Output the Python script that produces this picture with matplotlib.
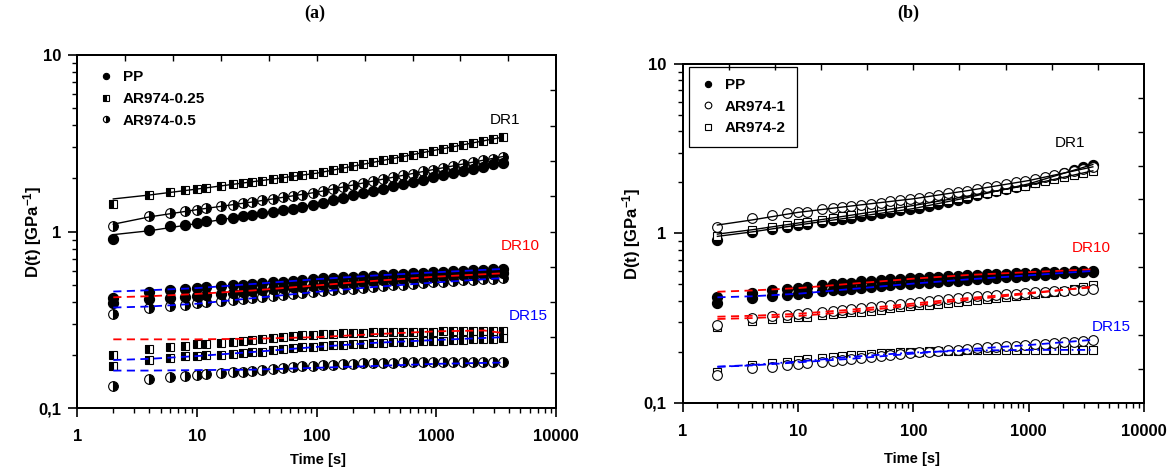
import matplotlib
matplotlib.use('Agg')
import matplotlib.pyplot as plt
import numpy as np
from matplotlib.lines import Line2D
from matplotlib.ticker import FixedLocator, NullFormatter, LogLocator, NullLocator

plt.rcParams['font.family'] = ['Liberation Sans', 'DejaVu Sans']
plt.rcParams['mathtext.fontset'] = 'custom'
plt.rcParams['mathtext.rm'] = 'Liberation Sans:bold'
plt.rcParams['mathtext.it'] = 'Liberation Sans:bold'
plt.rcParams['mathtext.bf'] = 'Liberation Sans:bold'
plt.rcParams['mathtext.default'] = 'rm'

# ---------------- data ----------------
times = [2, 4, 6, 8, 10, 12, 16, 20, 24, 29, 35, 43, 52, 63, 76, 93, 112, 136, 165, 200,
         243, 294, 357, 433, 525, 637, 772, 937, 1136, 1377, 1670, 2026, 2456, 2979, 3600]
fit_t = [2, 4, 10, 30, 100, 300, 1000, 3600]
fit_t_red15 = [2, 4, 10, 30, 100, 300, 1000, 2500, 3600]

x_tick_labels = ['1', '10', '100', '1000', '10000']
y_tick_labels = ['0,1', '1', '10']

# ---- panel (a) ----
pp_dr1_a = [0.91, 1.02, 1.07, 1.09, 1.12, 1.14, 1.17, 1.20, 1.22, 1.245, 1.27, 1.29, 1.32, 1.345, 1.37,
            1.415, 1.455, 1.50, 1.55, 1.60, 1.645, 1.695, 1.75, 1.80, 1.86, 1.91, 1.97, 2.03,
            2.09, 2.15, 2.21, 2.27, 2.33, 2.40, 2.46]
ar025_dr1_a = [1.44, 1.61, 1.67, 1.71, 1.74, 1.77, 1.815, 1.85, 1.88, 1.915, 1.945, 1.98, 2.01, 2.05, 2.08,
               2.12, 2.17, 2.23, 2.29, 2.34, 2.40, 2.47, 2.53, 2.59, 2.66, 2.73, 2.80, 2.87,
               2.94, 3.02, 3.10, 3.18, 3.26, 3.34, 3.43]
ar05_dr1_a = [1.07, 1.22, 1.27, 1.30, 1.33, 1.355, 1.39, 1.42, 1.45, 1.47, 1.50, 1.53, 1.56, 1.59, 1.615,
              1.66, 1.70, 1.74, 1.79, 1.83, 1.88, 1.93, 1.98, 2.03, 2.08, 2.13, 2.19, 2.24,
              2.30, 2.35, 2.41, 2.47, 2.53, 2.59, 2.66]
fit_pp_dr1_a = [0.96, 1.01, 1.11, 1.25, 1.43, 1.73, 2.05, 2.46]
fit_ar025_dr1_a = [1.53, 1.61, 1.74, 1.92, 2.14, 2.47, 2.90, 3.43]
fit_ar05_dr1_a = [1.10, 1.21, 1.33, 1.475, 1.67, 1.935, 2.26, 2.66]

pp_dr10_a = [0.42, 0.457, 0.465, 0.47, 0.477, 0.482, 0.49, 0.496, 0.50, 0.505, 0.51, 0.515, 0.52, 0.527,
             0.533, 0.538, 0.543, 0.547, 0.551, 0.555, 0.559, 0.563, 0.567, 0.571, 0.575, 0.579,
             0.583, 0.587, 0.591, 0.595, 0.599, 0.603, 0.607, 0.611, 0.614]
ar025_dr10_a = [0.393, 0.413, 0.42, 0.426, 0.432, 0.437, 0.444, 0.45, 0.455, 0.46, 0.466, 0.472, 0.478,
                0.483, 0.488, 0.493, 0.498, 0.503, 0.508, 0.513, 0.518, 0.523, 0.528, 0.533, 0.538,
                0.543, 0.548, 0.553, 0.558, 0.562, 0.566, 0.570, 0.574, 0.577, 0.58]
ar05_dr10_a = [0.34, 0.367, 0.377, 0.385, 0.393, 0.398, 0.405, 0.41, 0.415, 0.42, 0.426, 0.432, 0.438,
               0.444, 0.45, 0.455, 0.46, 0.465, 0.47, 0.475, 0.48, 0.485, 0.49, 0.495, 0.50, 0.505,
               0.51, 0.515, 0.52, 0.525, 0.529, 0.533, 0.537, 0.541, 0.544]
fit_blue_top_dr10_a = [0.457, 0.465, 0.478, 0.505, 0.537, 0.563, 0.588, 0.614]
fit_red_dr10_a = [0.424, 0.43, 0.443, 0.464, 0.495, 0.525, 0.555, 0.58]
fit_blue_bot_dr10_a = [0.371, 0.376, 0.39, 0.42, 0.455, 0.485, 0.515, 0.545]

ar025_dr15_a = [0.200, 0.216, 0.221, 0.226, 0.23, 0.232, 0.235, 0.238, 0.241, 0.244, 0.247, 0.25, 0.252,
                0.255, 0.258, 0.26, 0.262, 0.264, 0.265, 0.266, 0.267, 0.268, 0.269, 0.27, 0.27, 0.271,
                0.271, 0.271, 0.272, 0.272, 0.272, 0.272, 0.272, 0.273, 0.273]
sq2_dr15_a = [0.174, 0.187, 0.193, 0.196, 0.197, 0.199, 0.201, 0.203, 0.205, 0.207, 0.209, 0.212, 0.215,
              0.218, 0.221, 0.223, 0.225, 0.227, 0.229, 0.231, 0.232, 0.234, 0.235, 0.236, 0.237, 0.238,
              0.239, 0.24, 0.241, 0.242, 0.243, 0.245, 0.246, 0.247, 0.248]
ar05_dr15_a = [0.134, 0.146, 0.149, 0.152, 0.154, 0.155, 0.157, 0.159, 0.16, 0.162, 0.164, 0.166, 0.168,
               0.17, 0.173, 0.174, 0.175, 0.176, 0.177, 0.178, 0.179, 0.18, 0.181, 0.181, 0.182, 0.182,
               0.183, 0.183, 0.183, 0.183, 0.183, 0.183, 0.183, 0.183, 0.183]
fit_red_dr15_a = [0.245, 0.245, 0.245, 0.247, 0.252, 0.262, 0.272, 0.275, 0.266]
fit_blue_mid_dr15_a = [0.187, 0.19, 0.197, 0.208, 0.222, 0.234, 0.243, 0.252]
fit_blue_bot_dr15_a = [0.163, 0.163, 0.164, 0.165, 0.169, 0.173, 0.178, 0.181]

# ---- panel (b) ----
pp_dr1_b = [0.913, 1.02, 1.06, 1.09, 1.117, 1.137, 1.17, 1.197, 1.218, 1.24, 1.265, 1.29, 1.315, 1.34,
            1.365, 1.393, 1.42, 1.445, 1.49, 1.535, 1.58, 1.625, 1.675, 1.725, 1.78, 1.83, 1.885,
            1.94, 2.02, 2.10, 2.18, 2.27, 2.36, 2.45, 2.55]
ar1_dr1_b = [1.085, 1.23, 1.28, 1.31, 1.33, 1.34, 1.39, 1.41, 1.43, 1.45, 1.475, 1.50, 1.52, 1.545, 1.57,
             1.595, 1.62, 1.645, 1.68, 1.72, 1.755, 1.79, 1.83, 1.87, 1.915, 1.955, 2.00, 2.04,
             2.10, 2.16, 2.22, 2.28, 2.34, 2.41, 2.47]
ar2_dr1_b = [0.964, 1.045, 1.09, 1.12, 1.148, 1.17, 1.205, 1.233, 1.26, 1.28, 1.31, 1.337, 1.365, 1.39,
             1.42, 1.45, 1.48, 1.51, 1.545, 1.58, 1.62, 1.66, 1.70, 1.74, 1.78, 1.83, 1.87, 1.915,
             1.97, 2.03, 2.09, 2.15, 2.21, 2.275, 2.34]
fit_pp_dr1_b = [0.96, 1.02, 1.12, 1.245, 1.40, 1.63, 1.96, 2.55]
fit_ar1_dr1_b = [1.12, 1.20, 1.33, 1.455, 1.60, 1.79, 2.05, 2.47]
fit_ar2_dr1_b = [0.99, 1.05, 1.15, 1.285, 1.46, 1.66, 1.93, 2.34]

pp_dr10_b = [0.419, 0.446, 0.46, 0.47, 0.478, 0.484, 0.493, 0.50, 0.506, 0.512, 0.52, 0.526, 0.531,
             0.536, 0.54, 0.544, 0.548, 0.551, 0.555, 0.559, 0.563, 0.566, 0.569, 0.572, 0.575, 0.578,
             0.581, 0.584, 0.587, 0.59, 0.592, 0.595, 0.597, 0.599, 0.601]
pp2_dr10_b = [0.386, 0.413, 0.425, 0.434, 0.441, 0.446, 0.454, 0.46, 0.466, 0.472, 0.478, 0.484, 0.489,
              0.494, 0.499, 0.503, 0.507, 0.511, 0.515, 0.52, 0.525, 0.53, 0.535, 0.54, 0.545, 0.55,
              0.555, 0.56, 0.565, 0.57, 0.575, 0.58, 0.584, 0.588, 0.592]
ar1_dr10_b = [0.287, 0.315, 0.325, 0.329, 0.334, 0.338, 0.344, 0.349, 0.353, 0.358, 0.362, 0.367, 0.372,
              0.377, 0.382, 0.388, 0.394, 0.40, 0.405, 0.41, 0.415, 0.42, 0.424, 0.428, 0.432, 0.436,
              0.44, 0.444, 0.448, 0.452, 0.455, 0.458, 0.461, 0.464, 0.467]
ar2_dr10_b = [0.278, 0.305, 0.31, 0.315, 0.319, 0.322, 0.328, 0.333, 0.337, 0.341, 0.345, 0.35, 0.355,
              0.36, 0.365, 0.37, 0.375, 0.379, 0.384, 0.389, 0.394, 0.399, 0.404, 0.409, 0.414, 0.419,
              0.424, 0.43, 0.436, 0.443, 0.45, 0.458, 0.467, 0.479, 0.495]
fit_red_top_dr10_b = [0.452, 0.46, 0.475, 0.505, 0.54, 0.568, 0.59, 0.613]
fit_blue_dr10_b = [0.419, 0.425, 0.44, 0.47, 0.505, 0.535, 0.565, 0.60]
fit_red_ar1_dr10_b = [0.322, 0.326, 0.335, 0.355, 0.385, 0.415, 0.445, 0.48]
fit_red_ar2_dr10_b = [0.312, 0.316, 0.325, 0.345, 0.375, 0.405, 0.44, 0.485]

ar1_dr15_b = [0.146, 0.16, 0.163, 0.167, 0.169, 0.171, 0.174, 0.177, 0.179, 0.181, 0.183, 0.186, 0.188,
              0.191, 0.193, 0.196, 0.198, 0.2, 0.202, 0.204, 0.206, 0.208, 0.21, 0.212, 0.213, 0.215,
              0.217, 0.219, 0.221, 0.223, 0.225, 0.227, 0.229, 0.231, 0.234]
ar2_dr15_b = [0.152, 0.167, 0.172, 0.175, 0.178, 0.18, 0.183, 0.186, 0.188, 0.19, 0.192, 0.194, 0.196,
              0.197, 0.198, 0.199, 0.2, 0.201, 0.202, 0.203, 0.203, 0.204, 0.204, 0.204, 0.205, 0.205,
              0.205, 0.205, 0.205, 0.205, 0.205, 0.205, 0.205, 0.205, 0.205]
fit_blue_ar1_dr15_b = [0.163, 0.166, 0.173, 0.182, 0.195, 0.207, 0.219, 0.235]
fit_blue_ar2_dr15_b = [0.163, 0.167, 0.175, 0.187, 0.198, 0.203, 0.205, 0.205]

# ---------------- styles ----------------
RED = '#ff0000'
BLUE = '#0000ff'
DASH = (0, (4.5, 3))
DASHDOT = (0, (4.5, 2, 1, 2))

filled = dict(marker='o', ms=7.3, mfc='black', mec='black', mew=0.8, ls='none')
half_circ = dict(marker='o', ms=7, fillstyle='right', mfc='black', mfcalt='white', mec='black', mew=0.8, ls='none')
half_sq = dict(marker='s', ms=6, fillstyle='left', mfc='black', mfcalt='white', mec='black', mew=0.8, ls='none')
open_circ = dict(marker='o', ms=7, mfc='white', mec='black', mew=0.8, ls='none')
open_sq = dict(marker='s', ms=5.8, mfc='white', mec='black', mew=0.8, ls='none')


def style_axes(ax):
    ax.set_xscale('log')
    ax.set_yscale('log')
    ax.set_xlim(1, 1e4)
    ax.set_ylim(0.1, 10)
    ax.set_xticks([1, 10, 100, 1000, 10000])
    ax.set_xticklabels(x_tick_labels, fontweight='bold', fontsize=12)
    ax.set_yticks([0.1, 1, 10])
    ax.set_yticklabels(y_tick_labels, fontweight='bold', fontsize=12)
    ax.xaxis.set_minor_locator(LogLocator(base=10, subs=np.arange(2, 10)))
    ax.yaxis.set_minor_locator(LogLocator(base=10, subs=np.arange(2, 10)))
    ax.xaxis.set_minor_formatter(NullFormatter())
    ax.yaxis.set_minor_formatter(NullFormatter())
    ax.tick_params(which='major', direction='out', length=6.5, width=1.2, pad=5)
    ax.tick_params(axis='x', which='major', pad=8.5)
    ax.tick_params(which='minor', direction='out', length=3.5, width=1.0)
    for s in ax.spines.values():
        s.set_linewidth(1.4)
    top = ax.twiny()
    top.set_xscale('log')
    top.set_xlim(1, 1e4)
    top.xaxis.set_major_locator(FixedLocator(10 ** (0.4 * np.arange(1, 10))))
    top.xaxis.set_minor_locator(NullLocator())
    top.tick_params(axis='x', direction='in', length=4, width=1.0, labeltop=False)
    right = ax.twinx()
    right.set_yscale('log')
    right.set_ylim(0.1, 10)
    right.yaxis.set_major_locator(FixedLocator(10 ** (0.2 * np.arange(-4, 5))))
    right.yaxis.set_minor_locator(NullLocator())
    right.tick_params(axis='y', direction='in', length=4, width=1.0, labelright=False)
    for t in (top, right):
        for s in t.spines.values():
            s.set_linewidth(1.4)


fig = plt.figure(figsize=(11.67, 4.69), dpi=100)
ax_a = fig.add_axes([0.0662, 0.130, 0.4104, 0.7527])
ax_b = fig.add_axes([0.585, 0.1414, 0.3953, 0.7221])

# ---- panel (a) ----
ax_a.plot(times, ar025_dr1_a, **half_sq, zorder=3)
ax_a.plot(times, ar05_dr1_a, **half_circ, zorder=3)
ax_a.plot(times, pp_dr1_a, **filled, zorder=3)
for f in (fit_pp_dr1_a, fit_ar025_dr1_a, fit_ar05_dr1_a):
    ax_a.plot(fit_t, f, color='black', lw=1.0, zorder=4)

ax_a.plot(times, ar05_dr10_a, **half_circ, zorder=3)
ax_a.plot(times, ar025_dr10_a, **filled, zorder=3)
ax_a.plot(times, pp_dr10_a, **filled, zorder=3)
ax_a.plot(fit_t, fit_blue_top_dr10_a, color=BLUE, lw=1.3, ls=DASH, zorder=4)
ax_a.plot(fit_t, fit_red_dr10_a, color=RED, lw=1.3, ls=DASH, zorder=4)
ax_a.plot(fit_t, fit_blue_bot_dr10_a, color=BLUE, lw=1.3, ls=DASH, zorder=4)

ax_a.plot(times, ar025_dr15_a, **half_sq, zorder=3)
ax_a.plot(times, sq2_dr15_a, **half_sq, zorder=3)
ax_a.plot(times, ar05_dr15_a, **half_circ, zorder=3)
ax_a.plot(fit_t_red15, fit_red_dr15_a, color=RED, lw=1.3, ls=DASH, zorder=4)
ax_a.plot(fit_t, fit_blue_mid_dr15_a, color=BLUE, lw=1.3, ls=DASH, zorder=4)
ax_a.plot(fit_t, fit_blue_bot_dr15_a, color=BLUE, lw=1.3, ls=DASH, zorder=4)

ax_a.text(3725, 4.3, 'DR1', fontsize=11, color='black', ha='center', va='center')
ax_a.text(4980, 0.833, 'DR10', fontsize=11, color=RED, ha='center', va='center')
ax_a.text(5800, 0.334, 'DR15', fontsize=11, color=BLUE, ha='center', va='center')

# ---- panel (b) ----
ax_b.plot(times, pp_dr1_b, **filled, zorder=3)
ax_b.plot(times, ar2_dr1_b, **open_sq, zorder=3)
ax_b.plot(times, ar1_dr1_b, **open_circ, zorder=3)
for f in (fit_pp_dr1_b, fit_ar1_dr1_b, fit_ar2_dr1_b):
    ax_b.plot(fit_t, f, color='black', lw=1.0, zorder=4)

ax_b.plot(times, pp2_dr10_b, **filled, zorder=3)
ax_b.plot(times, pp_dr10_b, **filled, zorder=3)
ax_b.plot(times, ar2_dr10_b, **open_sq, zorder=3)
ax_b.plot(times, ar1_dr10_b, **open_circ, zorder=3)
ax_b.plot(fit_t, fit_red_top_dr10_b, color=RED, lw=1.3, ls=DASH, zorder=4)
ax_b.plot(fit_t, fit_blue_dr10_b, color=BLUE, lw=1.3, ls=DASH, zorder=4)
ax_b.plot(fit_t, fit_red_ar1_dr10_b, color=RED, lw=1.3, ls=DASH, zorder=4)
ax_b.plot(fit_t, fit_red_ar2_dr10_b, color=RED, lw=1.3, ls=DASH, zorder=4)

ax_b.plot(times, ar2_dr15_b, **open_sq, zorder=3)
ax_b.plot(times, ar1_dr15_b, **open_circ, zorder=3)
ax_b.plot(fit_t, fit_blue_ar1_dr15_b, color=BLUE, lw=1.3, ls=DASH, zorder=4)
ax_b.plot(fit_t, fit_blue_ar2_dr15_b, color=BLUE, lw=1.3, ls=DASHDOT, zorder=4)

ax_b.text(2286, 3.40, 'DR1', fontsize=11, color='black', ha='center', va='center')
ax_b.text(3458, 0.819, 'DR10', fontsize=11, color=RED, ha='center', va='center')
ax_b.text(5150, 0.281, 'DR15', fontsize=11, color=BLUE, ha='center', va='center')

for ax in (ax_a, ax_b):
    ax.set_xlabel('Time [s]', fontweight='bold', fontsize=10.5)
    ax.set_ylabel('D(t) [GPa$^{-1}$]', fontweight='bold', fontsize=12)

ax_a.xaxis.set_label_coords(0.503, -0.127)
ax_a.yaxis.set_label_coords(-0.07, 0.5)
ax_b.xaxis.set_label_coords(0.497, -0.147)
ax_b.yaxis.set_label_coords(-0.086, 0.5)

# legends
leg_a_handles = [
    Line2D([], [], **dict(filled, ms=4.5)),
    Line2D([], [], **dict(half_sq, ms=4.2)),
    Line2D([], [], **dict(half_circ, ms=4.5)),
]
leg_a = ax_a.legend(leg_a_handles, ['PP', 'AR974-0.25', 'AR974-0.5'], loc='upper left',
                    bbox_to_anchor=(0.031, 0.975), borderaxespad=0, frameon=False,
                    handlelength=1.0, handletextpad=0.6, labelspacing=0.52, borderpad=0.4,
                    prop={'weight': 'bold', 'size': 11})

leg_b_handles = [
    Line2D([], [], **dict(filled, ms=4.5)),
    Line2D([], [], **dict(open_circ, ms=4.8)),
    Line2D([], [], **dict(open_sq, ms=4.2)),
]
leg_b = ax_b.legend(leg_b_handles, ['PP', 'AR974-1', 'AR974-2'], loc='upper left',
                    bbox_to_anchor=(0.0137, 0.992), borderaxespad=0, frameon=True, fancybox=False,
                    edgecolor='black', framealpha=1, handlelength=1.0, handletextpad=0.6,
                    labelspacing=0.5, borderpad=0.75, prop={'weight': 'bold', 'size': 11})
leg_b.get_frame().set_linewidth(0.9)

style_axes(ax_a)
style_axes(ax_b)

fig.text(315 / 1167, 1 - 13 / 469, '(a)', fontsize=13, fontweight='bold',
         family=['Liberation Serif', 'DejaVu Serif'], ha='center', va='center')
fig.text(908 / 1167, 1 - 13 / 469, '(b)', fontsize=13, fontweight='bold',
         family=['Liberation Serif', 'DejaVu Serif'], ha='center', va='center')

fig.savefig('out.png', dpi=100)
